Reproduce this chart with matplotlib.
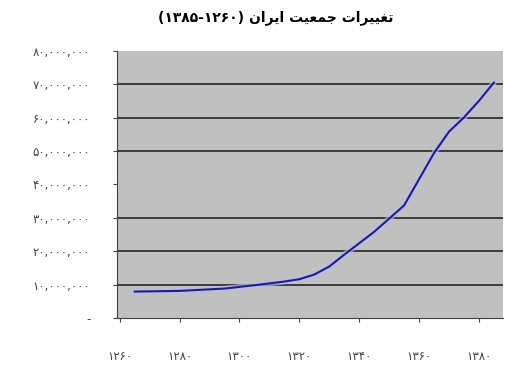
import matplotlib
matplotlib.use('Agg')
import matplotlib.pyplot as plt

# population of Iran (persian calendar years), millions
years = [1265, 1280, 1295, 1305, 1315, 1320, 1325, 1330, 1335, 1345, 1355, 1365, 1370, 1375, 1380, 1385]
pop_m = [7.9, 8.1, 8.8, 9.8, 10.9, 11.6, 13.0, 15.4, 18.95, 25.8, 33.7, 49.4, 55.8, 60.05, 65.0, 70.5]

xticks = [1260, 1280, 1300, 1320, 1340, 1360, 1380]
yticks = [0, 10, 20, 30, 40, 50, 60, 70, 80]
grid_vals = [10, 20, 30, 50, 60, 70]

fa_digits = str.maketrans('0123456789', '۰۱۲۳۴۵۶۷۸۹')

def fa(s):
    return str(s).translate(fa_digits)

# title, hand shaped (presentation forms), laid out right-to-left by hand
w1 = '\uFE97\uFED0\uFEF4\uFEF4\uFEAE\uFE8D\uFE95'[::-1]   # تغییرات
w2 = '\uFE9F\uFEE4\uFECC\uFEF4\uFE96'[::-1]                # جمعیت
w3 = '\uFE8D\uFEF3\uFEAE\uFE8D\uFEE5'[::-1]                # ایران
title = '(' + fa('1385') + '-' + fa('1260') + ') ' + w3 + ' ' + w2 + ' ' + w1

fig = plt.figure(figsize=(5.1, 3.71), dpi=100)
ax = fig.add_axes([0.229, 0.143, 0.757, 0.72])
ax.set_facecolor('#c0c0c0')

for g in grid_vals:
    ax.axhline(g * 1e6, color='#303030', lw=1.3, zorder=1)

ax.plot(years, [p * 1e6 for p in pop_m], color='#b8b8ff', lw=4, alpha=0.7, zorder=2)
ax.plot(years, [p * 1e6 for p in pop_m], color='#202078', lw=1.5, zorder=3)

ax.set_xlim(1259, 1388)
ax.set_ylim(0, 80e6)
ax.set_xticks(xticks)
ax.set_xticklabels([fa(x) for x in xticks])
ax.set_yticks([v * 1e6 for v in yticks])
ax.set_yticklabels(['-'] + [fa('{:,}'.format(v * 1000000)) for v in yticks[1:]])
ax.tick_params(labelsize=8.5, colors='#444444', length=3)
ax.tick_params(axis='y', pad=16)
ax.tick_params(axis='x', pad=20)

for s in ['top', 'right']:
    ax.spines[s].set_visible(False)
ax.spines['left'].set_color('#404040')
ax.spines['bottom'].set_color('#404040')

fig.text(0.54, 0.952, title, ha='center', va='center', fontsize=10, fontweight='bold')

fig.savefig('out.png', dpi=100)
